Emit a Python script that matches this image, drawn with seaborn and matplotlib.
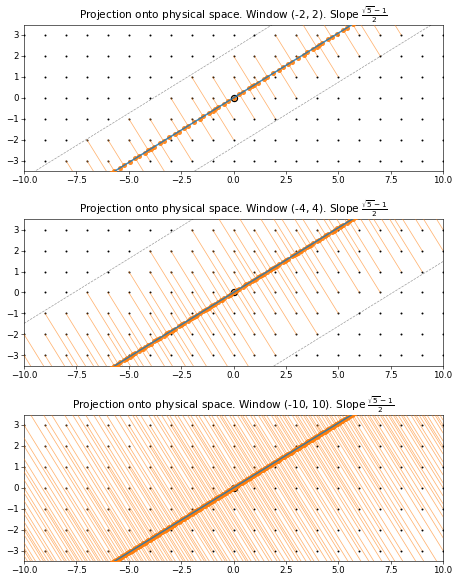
import numpy as np
import pandas as pd
import matplotlib
matplotlib.use('Agg')
import matplotlib.pyplot as plt
import seaborn as sns

sns.set_style("ticks", {'axes.edgecolor': 'black', 'text.color': 'black',
                        'xtick.color': 'black', 'ytick.color': 'black'})
plt.rcParams['font.family'] = ['DejaVu Sans']

# Datos del gráfico
pendiente = (np.sqrt(5) - 1) / 2          # slope (sqrt(5)-1)/2
ventanas = [2, 4, 10]                      # half-width of the window
etiquetas_ventana = ['(-2, 2)', '(-4, 4)', '(-10, 10)']
red_x = np.arange(-15, 16)                 # integer lattice
red_y = np.arange(-15, 16)
x_lim = (-10, 10)
y_lim = (-3.5, 3.5)
y_ticks = [-3, -2, -1, 0, 1, 2, 3]

# Vectores de la línea física y su perpendicular
norma = np.sqrt(1 + pendiente ** 2)
u = np.array([1, pendiente]) / norma
n = np.array([-pendiente, 1]) / norma

XX, YY = np.meshgrid(red_x, red_y)
puntos = np.column_stack([XX.ravel(), YY.ravel()])
s = puntos @ u
d = puntos @ n

DPI = 54
fig = plt.figure(figsize=(454 / DPI, 577 / DPI), dpi=DPI)
posiciones = [0.7036, 0.3662, 0.0277]

for w, etiqueta, bottom in zip(ventanas, etiquetas_ventana, posiciones):
    ax = fig.add_axes([0.0529, bottom, 0.923, 0.2539])

    # puntos de la red
    df_red = pd.DataFrame({'x': puntos[:, 0], 'y': puntos[:, 1]})
    sns.scatterplot(data=df_red, x='x', y='y', color='black', s=7, linewidth=0, ax=ax, zorder=2)

    # origen
    ax.plot(0, 0, 'o', ms=8, mfc='none', mec='black', mew=1.8, zorder=3)

    # segmentos de proyección
    dentro = np.abs(d) < w
    p_in = puntos[dentro]
    proy = np.outer(s[dentro], u)
    seg = pd.DataFrame({
        'id': np.repeat(np.arange(len(p_in)), 2),
        'x': np.column_stack([p_in[:, 0], proy[:, 0]]).ravel(),
        'y': np.column_stack([p_in[:, 1], proy[:, 1]]).ravel(),
    })
    sns.lineplot(data=seg, x='x', y='y', units='id', estimator=None, sort=False,
                 color='C1', alpha=0.6, lw=1.0, ax=ax, zorder=4)
    df_proy = pd.DataFrame({'x': proy[:, 0], 'y': proy[:, 1]})
    sns.scatterplot(data=df_proy, x='x', y='y', color='C1', s=45, alpha=0.9,
                    linewidth=0, ax=ax, zorder=5)

    # línea física y bordes de la ventana
    xs = np.array(x_lim, dtype=float)
    sns.lineplot(x=xs, y=pendiente * xs, color='C0', lw=2, alpha=0.85, ax=ax, zorder=6)
    for signo in (1, -1):
        ax.plot(xs, pendiente * xs + signo * w * norma, '--', color='grey',
                lw=0.9, alpha=0.8, zorder=1)

    ax.set_xlim(*x_lim)
    ax.set_ylim(*y_lim)
    ax.set_yticks(y_ticks)
    ax.set_xlabel('')
    ax.set_ylabel('')
    ax.tick_params(labelsize=11.5, length=3.5, width=0.8)
    ax.set_title(f'Projection onto physical space. Window {etiqueta}. Slope '
                 r'$\frac{\sqrt{5}-1}{2}$', fontsize=14, pad=4)

plt.savefig('out.png', dpi=DPI)
